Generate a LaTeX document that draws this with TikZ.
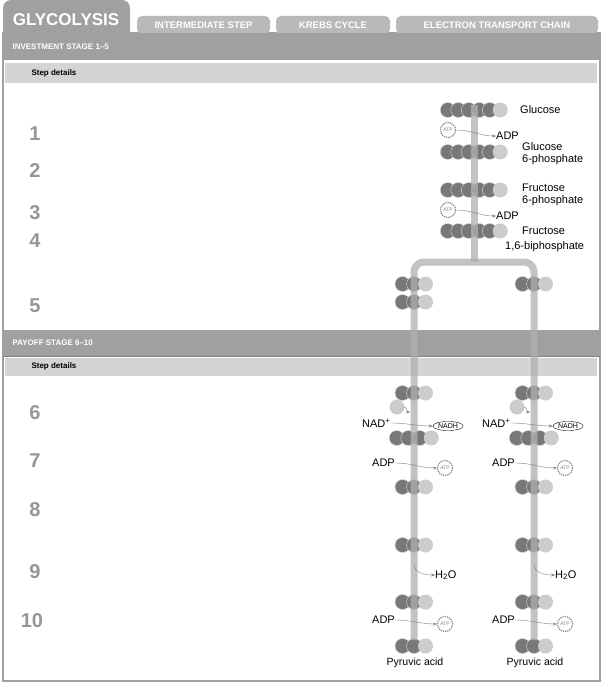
\documentclass[tikz,border=0pt]{standalone}
\usepackage{fontspec}
\setmainfont{Liberation Sans}
\usetikzlibrary{arrows.meta, positioning, shapes.geometric}
\definecolor{bandcol}{RGB}{160,160,160}
\definecolor{tabcol}{RGB}{185,185,185}
\definecolor{barcol}{RGB}{212,212,212}
\definecolor{stemcol}{RGB}{175,175,175}
\definecolor{molcol}{RGB}{120,120,120}
\definecolor{numcol}{RGB}{150,150,150}
\tikzset{
  tab/.style={fill=tabcol, rounded corners=5pt, text=white, font=\bfseries\fontsize{9.5}{10}\selectfont},
  band/.style={fill=bandcol, text=white, font=\bfseries\fontsize{8}{9}\selectfont, anchor=west},
  stepnum/.style={text=numcol, font=\bfseries\fontsize{20}{22}\selectfont},
  lbl/.style={font=\fontsize{11}{12}\selectfont, anchor=west, inner sep=0pt},
  atp/.style={circle, draw=gray, densely dotted, very thick, fill=white, minimum size=15pt, inner sep=0pt, font=\fontsize{5}{5}\selectfont, text=gray},
  nadh/.style={ellipse, draw=black, fill=white, inner sep=0.8pt, font=\fontsize{7}{7}\selectfont},
  flow/.style={-{Stealth[length=4pt, width=3pt]}, gray, thin},
  stem/.style={line width=7pt, stemcol, rounded corners=10pt}
}
% a chain of carbon atoms: x, y, number, spacing
\newcommand{\molchain}[4]{%
  \foreach \k in {1,...,#3}{
    \pgfmathsetmacro{\cx}{#1-(#3-1)*#4/2+(\k-1)*#4}
    \ifnum\k=#3 \fill[gray!40] (\cx,#2) circle (7.5);
    \else \fill[molcol, draw=gray!30, thin] (\cx,#2) circle (7.5); \fi
  }}
\begin{document}
\begin{tikzpicture}[x=1pt, y=-1pt]
  \useasboundingbox (0,0) rectangle (602,684);
  % frame and bands
  \draw[bandcol, line width=2pt] (3,33) rectangle (600,681);
  \fill[bandcol, rounded corners=8pt] (3,60) -- (3,0) -- (130,0) -- (130,60);
  \node[text=white, font=\bfseries\fontsize{17}{18}\selectfont] (glyc) at (66,20) {GLYCOLYSIS};
  \node[tab, minimum width=133pt, minimum height=18pt] (inter) at (203.5,25) {INTERMEDIATE STEP};
  \node[tab, minimum width=114pt, minimum height=18pt] (krebs) at (333,25) {KREBS CYCLE};
  \node[tab, minimum width=202pt, minimum height=18pt] (etc) at (497,25) {ELECTRON TRANSPORT CHAIN};
  \fill[bandcol] (3,33) rectangle (600,60);
  \node[band] (invest) at (9,47) {INVESTMENT STAGE 1–5};
  \fill[barcol] (5,63) rectangle (597,83);
  \node[anchor=west, font=\bfseries\fontsize{8}{9}\selectfont] (det1) at (28,73) {Step details};
  \fill[bandcol] (3,330) rectangle (600,356);
  \draw[gray] (3,356) -- (600,356);
  \node[band] (payoff) at (9,343) {PAYOFF STAGE 6–10};
  \fill[barcol] (5,358) rectangle (597,376);
  \node[anchor=west, font=\bfseries\fontsize{8}{9}\selectfont] (det2) at (28,366) {Step details};
  % step numbers
  \foreach \n/\y in {1/134, 2/171, 3/213, 4/241, 5/306, 6/413, 7/461, 8/510, 9/572}
    \node[stepnum] (s\n) at (35,\y) {\n};
  \node[stepnum] (s10) at (32,621) {10};
  % investment stage
  \molchain{474}{110}{6}{10.5} \molchain{474}{152}{6}{10.5}
  \molchain{474}{190}{6}{10.5} \molchain{474}{231}{6}{10.5}
  \node[lbl] (glc) at (520,110) {Glucose};
  \node[lbl] (g6p) at (522,147) {Glucose};
  \node[lbl] at (522,160) {6-phosphate};
  \node[lbl] (f6p) at (522,188) {Fructose};
  \node[lbl] at (522,201) {6-phosphate};
  \node[lbl] (fbp) at (522,231) {Fructose};
  \node[lbl] at (505,247) {1,6-biphosphate};
  \molchain{414}{284}{3}{11.5} \molchain{534}{284}{3}{11.5}
  \molchain{414}{302}{3}{11.5}
  % payoff stage chains
  \foreach \c in {414, 534}{
    \molchain{\c}{393}{3}{11.5}
    \molchain{\c}{438}{4}{11.5}
    \molchain{\c}{487}{3}{11.5}
    \molchain{\c}{545}{3}{11.5}
    \molchain{\c}{602}{3}{11.5}
    \molchain{\c}{646}{3}{11.5}
  }
  % stem
  \draw[stem, opacity=0.75] (474,105) -- (474,262);
  \draw[stem, opacity=0.75] (414,640) -- (414,262) -- (534,262) -- (534,640);
  \node[atp] (atp1) at (448,130) {ATP};
  \node[lbl] (adp1) at (496,136) {ADP};
  \draw[flow] (atp1) to[out=0, in=180] (adp1);
  \node[atp] (atp2) at (448,210) {ATP};
  \node[lbl] (adp2) at (496,216) {ADP};
  \draw[flow] (atp2) to[out=0, in=180] (adp2);
  % payoff stage, two columns
  \foreach \c in {414, 534}{
    \fill[gray!40] (\c-17,407) circle (7.5);
    \coordinate (pin) at (\c-4,412);
    \draw[flow] (\c-10,407) to[out=0, in=180] (pin);
    \node[lbl] (nad) at (\c-52,423) {NAD\textsuperscript{+}};
    \node[nadh] (nadh) at (\c+34,426) {NADH};
    \draw[flow] (nad) to[out=0, in=180] (nadh);
    \node[lbl] (adpa) at (\c-42,463) {ADP};
    \node[atp] (atpa) at (\c+31,468) {ATP};
    \draw[flow] (adpa) to[out=0, in=180] (atpa);
    \coordinate (wout) at (\c,564);
    \node[lbl] (water) at (\c+21,575) {H\textsubscript{2}O};
    \draw[flow] (wout) to[out=-90, in=180] (water);
    \node[lbl] (adpb) at (\c-42,620) {ADP};
    \node[atp] (atpb) at (\c+31,624) {ATP};
    \draw[flow] (adpb) to[out=0, in=180] (atpb);
    \node[font=\fontsize{10.5}{12}\selectfont] (pyr) at (\c+1,663) {Pyruvic acid};
  }
\end{tikzpicture}
\end{document}
